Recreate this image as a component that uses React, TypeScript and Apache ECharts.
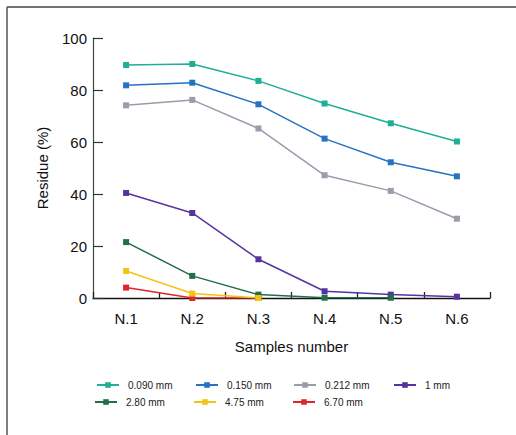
import React, { useEffect, useRef } from "react";
import * as echarts from "echarts";

const categories = ["N.1", "N.2", "N.3", "N.4", "N.5", "N.6"];
const seriesNames = ["0.090 mm", "0.150 mm", "0.212 mm", "1 mm", "2.80 mm", "4.75 mm", "6.70 mm"];
const s0090 = [89.6, 90.0, 83.5, 74.8, 67.2, 60.2];
const s0150 = [81.8, 82.8, 74.5, 61.3, 52.2, 46.8];
const s0212 = [74.1, 76.2, 65.2, 47.2, 41.2, 30.5];
const s1 = [40.4, 32.7, 14.9, 2.6, 1.3, 0.5];
const s280 = [21.5, 8.5, 1.3, 0.1, 0.1, "-"];
const s475 = [10.4, 1.7, 0.0, "-", "-", "-"];
const s670 = [4.0, 0.0, 0.0, "-", "-", "-"];
const yTicks = [0, 20, 40, 60, 80, 100];

const colors = ["#1fae98", "#2673c4", "#9b9bab", "#5634a0", "#226f47", "#f4c414", "#e0242c"];
const allData = [s0090, s0150, s0212, s1, s280, s475, s670];
const legendLeft = [96, 195, 293, 393, 94, 193, 292];
const legendTop = [380, 380, 380, 380, 397, 397, 397];

export default function App() {
  const ref = useRef<HTMLDivElement>(null);
  useEffect(() => {
    if (!ref.current) return;
    const chart = echarts.init(ref.current, null, { renderer: "svg" });
    const font = "Liberation Sans, Arial, sans-serif";
    chart.setOption({
      animation: false,
      textStyle: { fontFamily: font },
      grid: { left: 93, right: 26, top: 38, bottom: 137 },
      xAxis: {
        type: "category",
        data: categories,
        boundaryGap: true,
        axisLine: { show: true, lineStyle: { color: "#111", width: 1.3 } },
        axisTick: { show: true, inside: true, length: 6, interval: 0, lineStyle: { color: "#222", width: 1.3 } },
        axisLabel: { fontSize: 15, color: "#111", margin: 13, fontFamily: font },
        name: "Samples number",
        nameLocation: "middle",
        nameGap: 41,
        nameTextStyle: { fontSize: 15, color: "#111", fontFamily: font },
      },
      yAxis: {
        type: "value",
        min: yTicks[0],
        max: yTicks[yTicks.length - 1],
        interval: yTicks[1] - yTicks[0],
        axisLine: { show: true, lineStyle: { color: "#444", width: 1.2 } },
        axisTick: { show: true, inside: true, length: 10, lineStyle: { color: "#333", width: 1.2 } },
        splitLine: { show: false },
        axisLabel: { fontSize: 15, color: "#111", margin: 6, padding: [8, 0, 0, 0], fontFamily: font },
        name: "Residue (%)",
        nameLocation: "middle",
        nameGap: 43,
        nameTextStyle: { fontSize: 15, color: "#111", fontFamily: font },
      },
      legend: seriesNames.map((name, i) => ({
        left: legendLeft[i],
        top: legendTop[i],
        itemWidth: 22,
        itemHeight: 7,
        itemGap: 5,
        padding: 0,
        data: [name],
        textStyle: { fontSize: 10, color: "#222", fontFamily: font, padding: [0, 0, 0, 4] },
      })),
      series: seriesNames.map((name, i) => ({
        name,
        type: "line",
        data: allData[i],
        symbol: "rect",
        symbolSize: 6,
        z: i === 5 ? 4 : 2,
        itemStyle: { color: colors[i] },
        lineStyle: { color: colors[i], width: 1.5 },
      })),
      graphic: [
        { type: "line", shape: { x1: 7, y1: 7, x2: 516, y2: 7 }, style: { stroke: "#444", lineWidth: 1.5 } },
        { type: "line", shape: { x1: 7, y1: 7, x2: 7, y2: 435 }, style: { stroke: "#555", lineWidth: 1.5 } },
      ],
    });
    return () => chart.dispose();
  }, []);
  return (
    <div
      ref={ref}
      style={{ position: "absolute", left: 0, top: 0, width: 516, height: 435, background: "#fff" }}
    />
  );
}
